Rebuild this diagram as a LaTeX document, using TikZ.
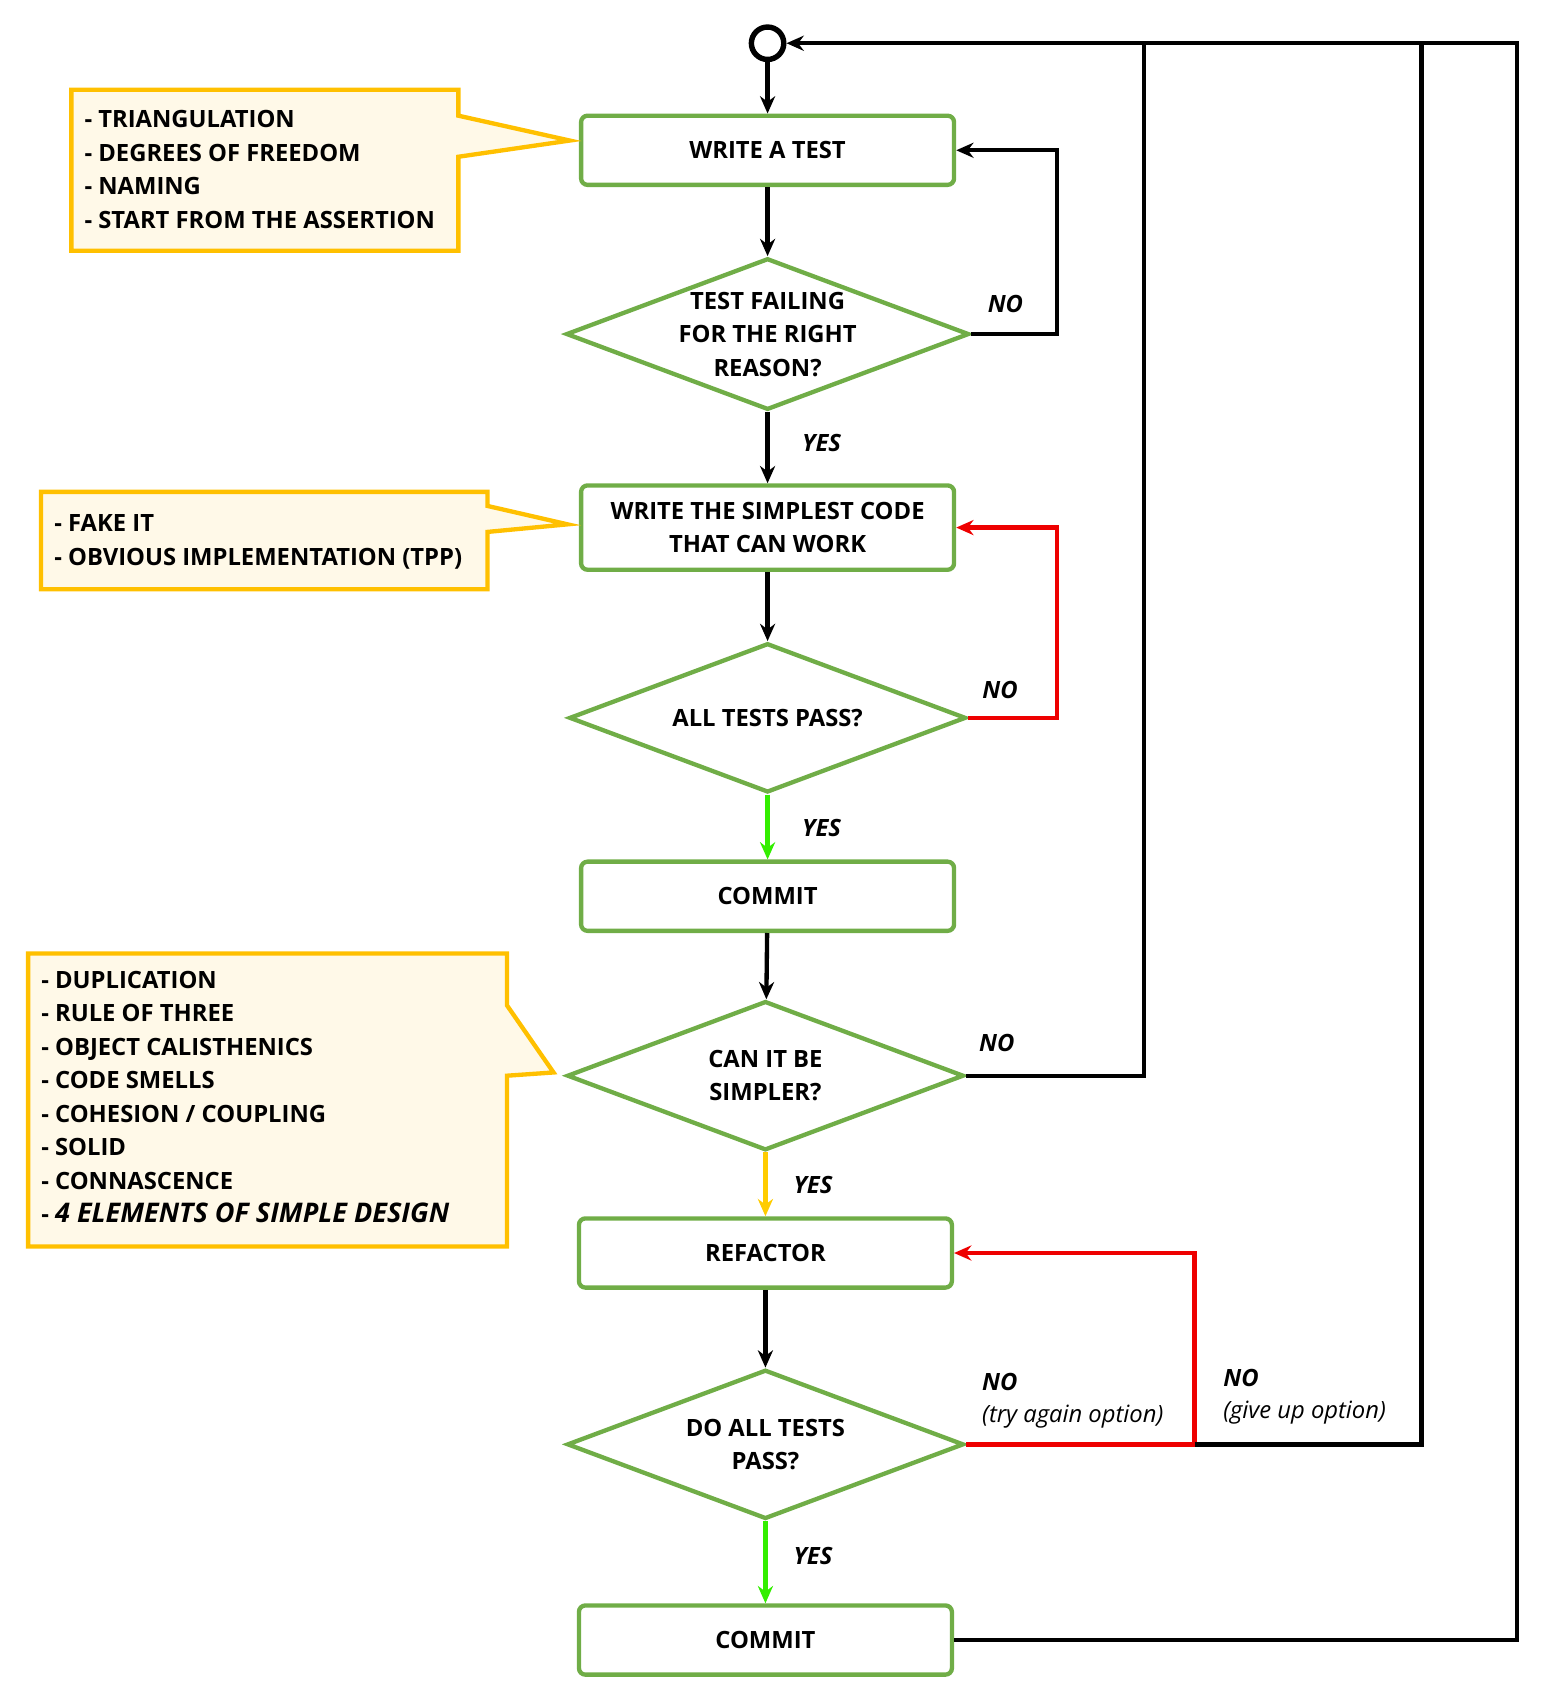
\documentclass[tikz,border=0pt]{standalone}
\usepackage{fontspec}
\setmainfont{Open Sans}
\usetikzlibrary{shapes.geometric,arrows.meta}
\definecolor{gr}{HTML}{70AD47}
\definecolor{yb}{HTML}{FFC000}
\definecolor{yf}{HTML}{FFF9E8}
\definecolor{rd}{HTML}{EE0000}
\definecolor{lg}{HTML}{33EE00}
\definecolor{ya}{HTML}{FFCC00}
\begin{document}
\begin{tikzpicture}[x=1pt,y=-1pt,
 every node/.style={font=\fontsize{22}{31}\selectfont\bfseries},
 box/.style={draw=gr,line width=4pt,rounded corners=6pt,minimum width=345,minimum height=64,align=center,inner sep=0},
 dia/.style={diamond,draw=gr,line width=4pt,minimum width=367,minimum height=138,align=center,inner sep=0,aspect=2.66},
 ar/.style={line width=4pt,-{Stealth[length=16pt,width=14pt]}},
 ln/.style={line width=4pt},
 call/.style={draw=yb,fill=yf,line width=4pt},
 lab/.style={font=\fontsize{22}{26}\selectfont\bfseries\itshape},
 sub/.style={font=\fontsize{22}{26}\selectfont\itshape}]
\useasboundingbox (0,0) rectangle (1434,1566);
\node[circle,draw,line width=5pt,minimum size=30,inner sep=0] (s) at (710,40) {};
\node[box] (b1) at (710,139) {WRITE A TEST};
\node[dia] (d1) at (710,309) {TEST FAILING\\FOR THE RIGHT\\REASON?};
\node[box,minimum height=78] (b2) at (710,488) {WRITE THE SIMPLEST CODE\\THAT CAN WORK};
\node[dia] (d2) at (710,664) {ALL TESTS PASS?};
\node[box] (b3) at (710,829) {COMMIT};
\node[dia] (d3) at (708,995) {CAN IT BE\\SIMPLER?};
\node[box] (b4) at (708,1159) {REFACTOR};
\node[dia] (d4) at (708,1336) {DO ALL TESTS\\PASS?};
\node[box] (b5) at (708,1517) {COMMIT};
\coordinate (c1) at (978,309); \coordinate (c2) at (978,139);
\coordinate (c3) at (978,664); \coordinate (c4) at (978,488);
\coordinate (c5) at (1058,995); \coordinate (c6) at (1058,40);
\coordinate (c7) at (1105,1336); \coordinate (c8) at (1105,1159);
\coordinate (c9) at (1315,1336); \coordinate (c10) at (1315,40);
\coordinate (c11) at (1403,1517); \coordinate (c12) at (1403,40);
\draw[ar] (s) -- (b1);
\draw[ar] (b1) -- (d1);
\draw[ar] (d1) -- (b2);
\draw[ar] (b2) -- (d2);
\draw[ar,lg] (d2) -- (b3);
\draw[ar] (b3) -- (d3);
\draw[ar,ya] (d3) -- (b4);
\draw[ar] (b4) -- (d4);
\draw[ar,lg] (d4) -- (b5);
\draw[ar] (d1.east) -- (c1) -- (c2) -- (b1.east);
\draw[ar,rd] (d2.east) -- (c3) -- (c4) -- (b2.east);
\draw[ln] (d3.east) -- (c5) -- (c6);
\draw[ar,rd] (d4.east) -- (c7) -- (c8) -- (b4.east);
\draw[ln] (c7) -- (c9) -- (c10);
\draw[ar] (b5.east) -- (c11) -- (c12) -- (s.east);
\node[lab] at (930,281) {NO};
\node[lab] at (925,638) {NO};
\node[lab] at (922,965) {NO};
\node[lab,anchor=west] at (905,1278) {NO};
\node[sub,anchor=west] at (905,1310) {(try again option)};
\node[lab,anchor=west] at (1128,1275) {NO};
\node[sub,anchor=west] at (1128,1307) {(give up option)};
\node[lab] at (760,410) {YES};
\node[lab] at (760,766) {YES};
\node[lab] at (752,1096) {YES};
\node[lab] at (752,1439) {YES};
\draw[call] (66,83) -- (424,83) -- (424,107) -- (527,130) -- (424,145) -- (424,232) -- (66,232) -- cycle;
\node[anchor=north west,align=left,inner sep=0] (t1) at (78,102) {- TRIANGULATION\\- DEGREES OF FREEDOM\\- NAMING\\- START FROM THE ASSERTION};
\draw[call] (38,455) -- (451,455) -- (451,468) -- (525,485) -- (451,492) -- (451,545) -- (38,545) -- cycle;
\node[anchor=north west,align=left,inner sep=0] (t2) at (50,476) {- FAKE IT\\- OBVIOUS IMPLEMENTATION (TPP)};
\draw[call] (26,882) -- (469,882) -- (469,930) -- (512,992) -- (469,995) -- (469,1153) -- (26,1153) -- cycle;
\node[anchor=north west,align=left,inner sep=0] (t3) at (38,898) {- DUPLICATION\\- RULE OF THREE\\- OBJECT CALISTHENICS\\- CODE SMELLS\\- COHESION / COUPLING\\- SOLID\\- CONNASCENCE\\- {\fontsize{25}{31}\selectfont\itshape 4 ELEMENTS OF SIMPLE DESIGN}};
\end{tikzpicture}
\end{document}
